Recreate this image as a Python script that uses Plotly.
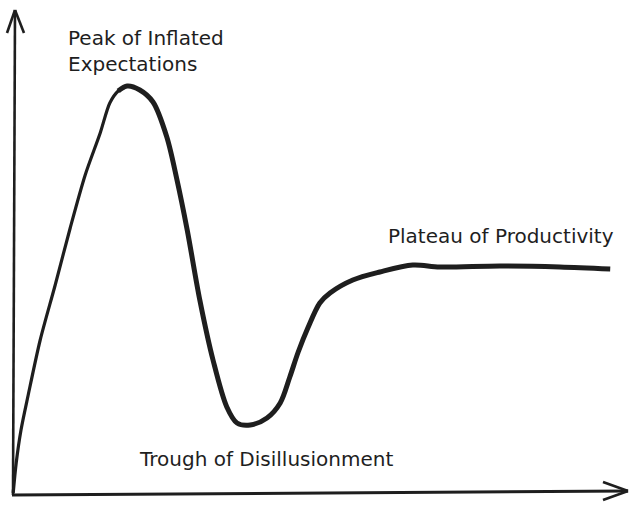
import plotly.graph_objects as go

# Hype cycle curve (time vs. visibility, arbitrary units)
time = [0.2, 0.7, 1.5, 2.7, 4.7, 7.2, 9.7, 12.2, 14.7, 16.3, 17.7, 19.2, 21.3, 23.5,
        25.8, 27.5, 29.2, 31.3, 33.5, 35.8, 37.5, 39.7, 42.5, 44.7, 46.3, 47.7,
        49.3, 51.3, 53.0, 56.8, 61.3, 66.8, 71.3, 81.3, 91.3, 99.7]
visibility = [-0.25, 7.25, 15.5, 24.25, 38, 51.75, 66, 79.25, 89.75, 97.25, 100.25,
              101.5, 100.5, 97.5, 88.75, 78, 65.5, 48, 33, 21.25, 17.25, 16.75, 18.5, 22.25,
              28.75, 35.0, 41.0, 47.25, 49.75, 53, 55, 56.75, 56.25, 56.5, 56.25, 55.75]

labels = ["Peak of Inflated<br>Expectations", "Trough of Disillusionment", "Plateau of Productivity"]

W, H = 638, 507
X0, X1 = -2.0, 104.33
Y0, Y1 = -3.75, 123.0

def px2x(p):
    return X0 + (X1 - X0) * p / W

def py2y(p):
    return Y1 - (Y1 - Y0) * p / H

INK = "#1e1e1e"
PEAK = 11  # index of the peak point

fig = go.Figure()
# rising part drawn thinner, the rest thicker (hand-drawn stroke)
fig.add_trace(go.Scatter(x=time[:PEAK + 1], y=visibility[:PEAK + 1], mode="lines",
                         line=dict(color=INK, width=3.2, shape="spline", smoothing=0.8),
                         hoverinfo="skip", showlegend=False))
fig.add_trace(go.Scatter(x=time[PEAK - 1:], y=visibility[PEAK - 1:], mode="lines",
                         line=dict(color=INK, width=5, shape="spline", smoothing=0.9),
                         hoverinfo="skip", showlegend=False))

shapes = []
def seg(a, b, w=2.6):
    shapes.append(dict(type="line", x0=px2x(a[0]), y0=py2y(a[1]), x1=px2x(b[0]), y1=py2y(b[1]),
                       line=dict(color=INK, width=w), layer="above"))

# vertical axis with arrow
seg((13, 495), (15, 10))
seg((7, 33), (15, 10))
seg((24, 33), (15, 10))
# horizontal axis with arrow
seg((12, 495), (628, 491), 3)
seg((603, 482), (628, 491))
seg((603, 500), (628, 491))

font = dict(family="DejaVu Sans, sans-serif", size=20, color=INK)
anns = [
    dict(x=px2x(66), y=py2y(51), text=labels[0], xanchor="left", yanchor="middle", align="left"),
    dict(x=px2x(137), y=py2y(459), text=labels[1], xanchor="left", yanchor="middle", align="left"),
    dict(x=px2x(386), y=py2y(236), text=labels[2], xanchor="left", yanchor="middle", align="left"),
]
for a in anns:
    a.update(showarrow=False, font=font)

fig.update_layout(
    width=W, height=H,
    margin=dict(l=0, r=0, t=0, b=0),
    paper_bgcolor="white", plot_bgcolor="white",
    xaxis=dict(range=[X0, X1], visible=False, fixedrange=True),
    yaxis=dict(range=[Y0, Y1], visible=False, fixedrange=True),
    shapes=shapes, annotations=anns,
)
fig.write_html("out.html", config={"displayModeBar": False},
               post_script="document.body.style.margin='0';document.body.style.padding='0';document.body.style.overflow='hidden';")
